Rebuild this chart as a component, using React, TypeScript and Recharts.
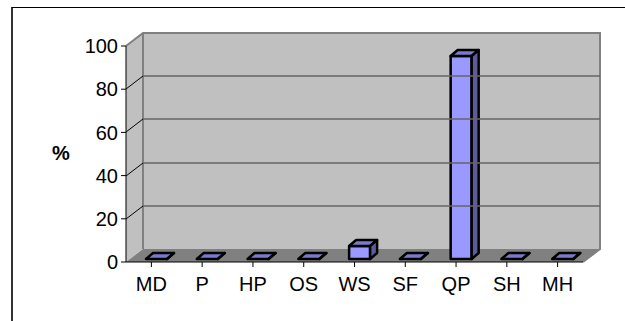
import { BarChart, Bar, XAxis, YAxis, ReferenceArea, ReferenceLine } from "recharts";

const categories = ["MD", "P", "HP", "OS", "WS", "SF", "QP", "SH", "MH"];
const percents = [0, 0, 0, 0, 6, 0, 94, 0, 0];
const yTicks = [0, 20, 40, 60, 80, 100];
const gridTicks = [20, 40, 60, 80];

const data = categories.map((name, i) => ({ name, value: percents[i] }));

const DX = 17;
const DY = -13;
const FONT = "'Liberation Sans', Arial, sans-serif";

/* back wall, side wall and floor */
function Walls({ x, y, width, height }: any) {
  const b = y + height;
  const r = x + width;
  return (
    <g>
      <polygon points={`${x},${y} ${x + DX},${y + DY} ${x + DX},${b + DY} ${x},${b}`} fill="#c0c0c0" />
      <rect x={x + DX} y={y + DY} width={width} height={height} fill="#c0c0c0" />
      <polygon points={`${x},${b} ${x + DX},${b + DY} ${r + DX},${b + DY} ${r},${b}`} fill="#808080" />
      <polyline
        points={`${x},${y} ${x + DX},${y + DY} ${r + DX},${y + DY} ${r + DX},${b + DY} ${r},${b}`}
        fill="none"
        stroke="#808080"
        strokeWidth={2}
      />
      <line x1={x + DX} y1={y + DY} x2={x + DX} y2={b + DY} stroke="#808080" strokeWidth={2} />
    </g>
  );
}

/* gridline runs up the side wall, then along the back wall */
function GridLine({ x1, y1, x2 }: any) {
  const y = Math.round(y1);
  return (
    <g>
      <line x1={x1} y1={y} x2={x1 + DX} y2={y + DY} stroke="#000" strokeWidth={1} />
      <line x1={x1 + DX} y1={y + DY} x2={x2 + DX} y2={y + DY} stroke="#666" strokeWidth={1.5} />
    </g>
  );
}

/* extruded box, sitting halfway into the floor depth */
function Box({ x, y, width, height }: any) {
  const l = x + 5;
  const r = l + width;
  const t = y - 3;
  const b = y + height - 3;
  const dx = 7;
  const dy = -6;
  return (
    <g stroke="#000" strokeWidth={2.5} strokeLinejoin="round">
      <rect x={l} y={t} width={width} height={height} fill="#9999ff" />
      <polygon points={`${l},${t} ${l + dx},${t + dy} ${r + dx},${t + dy} ${r},${t}`} fill="#7a7acc" />
      <polygon points={`${r},${t} ${r + dx},${t + dy} ${r + dx},${b + dy} ${r},${b}`} fill="#5c5c99" />
    </g>
  );
}

export default function App() {
  return (
    <div
      style={{
        position: "absolute",
        left: 0,
        top: 0,
        width: 625,
        height: 321,
        background: "#fff",
      }}
    >
      <div
        style={{
          position: "absolute",
          left: 11,
          top: 7,
          width: 614,
          height: 314,
          borderLeft: "2px solid #333",
          borderTop: "1px solid #000",
        }}
      />
      <div
        style={{
          position: "absolute",
          left: 52,
          top: 142,
          fontFamily: FONT,
          fontSize: 20,
          fontWeight: 700,
          color: "#000",
        }}
      >
        %
      </div>
      <div style={{ position: "absolute", left: 0, top: 0 }}>
        <BarChart
          width={625}
          height={321}
          data={data}
          margin={{ top: 46, right: 42, bottom: 0, left: 0 }}
          barSize={21}
        >
          <ReferenceArea y1={0} y2={100} ifOverflow="visible" shape={<Walls />} />
          {gridTicks.map((t) => (
            <ReferenceLine key={t} y={t} ifOverflow="visible" shape={<GridLine />} />
          ))}
          <XAxis
            dataKey="name"
            height={59}
            interval={0}
            tickSize={5}
            tickMargin={10}
            stroke="#000"
            tick={{ fill: "#000", fontSize: 20, fontFamily: FONT }}
          />
          <YAxis
            width={126}
            domain={[0, 100]}
            ticks={yTicks}
            tickSize={5}
            tickMargin={3}
            stroke="#000"
            tick={{ fill: "#000", fontSize: 20, fontFamily: FONT }}
          />
          <Bar dataKey="value" isAnimationActive={false} shape={<Box />} />
        </BarChart>
      </div>
    </div>
  );
}
